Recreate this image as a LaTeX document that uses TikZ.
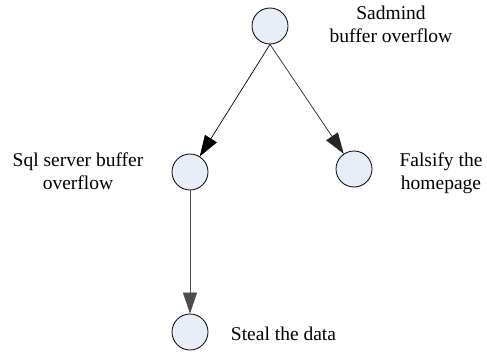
\documentclass[tikz,border=0pt]{standalone}
\usepackage{fontspec}
\setmainfont{Liberation Serif}
\usetikzlibrary{arrows.meta}
\definecolor{remplissage}{RGB}{232,238,248}
\begin{document}
\begin{tikzpicture}[x=1pt,y=-1pt]
        \tikzstyle{sommet}=[circle,draw,line width=0.8pt,fill=remplissage,minimum size=36pt,inner sep=0pt]
        \tikzstyle{etiquette}=[align=center,font=\fontsize{19.5}{23}\selectfont]
        \tikzstyle{fleche}=[line width=0.7pt,-{Triangle[length=21pt,width=14pt]}]
        \useasboundingbox (0,0) rectangle (487,353);
        \node[sommet] (1) at (270,26) {};
        \node[sommet] (2) at (190,172) {};
        \node[sommet] (3) at (354,169) {};
        \node[sommet] (4) at (190,332) {};
        \node[etiquette] (t1) at (391,24) {Sadmind\\buffer overflow};
        \node[etiquette] (t2) at (78,171.5) {Sql server buffer\\overflow};
        \node[etiquette] (t3) at (441,173.5) {Falsify the\\homepage};
        \node[etiquette] (t4) at (283.5,334) {Steal the data};
        \draw[fleche,black] (1.south) -- (2);
        \draw[fleche,black!85] (1.south) -- (3);
        \draw[fleche,black!70] (2.south) -- (4);
    \end{tikzpicture}
\end{document}
